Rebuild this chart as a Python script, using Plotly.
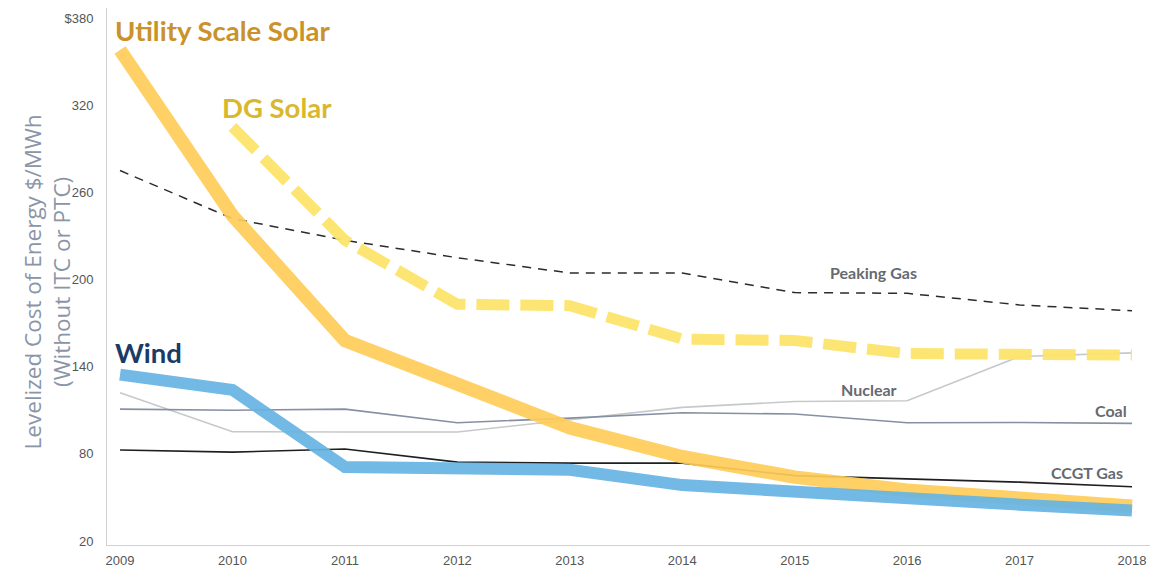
import plotly.graph_objects as go

years = [2009, 2010, 2011, 2012, 2013, 2014, 2015, 2016, 2017, 2018]
utility_solar = [358, 244, 158, 127, 98, 78, 64, 55, 50, 44]
dg_years = [2010, 2011, 2012, 2013, 2014, 2015, 2016, 2017, 2018]
dg_solar = [305, 227, 183, 182, 159, 158, 149, 148, 148]
peaking_gas = [275, 242, 227, 215, 204.5, 204.5, 191, 190.5, 182.5, 178.5]
wind = [134.5, 124, 71, 70.5, 69, 58.5, 54, 47.5, 45, 41]
nuclear = [122, 95.2, 95, 95, 103.5, 112, 116, 116.5, 147, 149.5]
coal = [110.8, 110, 110.8, 101.4, 104.6, 108.3, 107.4, 101.4, 101.6, 101]
ccgt = [82.6, 81.2, 83.3, 74.3, 73.6, 73.6, 65, 62.5, 60.5, 57.3]

y_ticks = [20, 80, 140, 200, 260, 320, 380]
y_tick_text = ["20", "80", "140", "200", "260", "320", "$380"]

fig = go.Figure()

def add(x, y, color, width, dash="solid", opacity=1.0):
    fig.add_trace(go.Scatter(x=x, y=y, mode="lines", opacity=opacity,
                             line=dict(color=color, width=width, dash=dash),
                             hoverinfo="skip", showlegend=False))

add(years, peaking_gas, "#2b2b2b", 1.5, dash="9px,7px")
add(years, nuclear, "#c6c8cb", 1.6)
add(years, coal, "#8690a3", 1.6)
add(years, ccgt, "#1f1f1f", 1.6)
add(dg_years, dg_solar, "#fde46c", 11, dash="33px,11px", opacity=0.95)
add(years, utility_solar, "#fecd58", 13.5, opacity=0.92)
add(years, wind, "#67b4e3", 12, opacity=0.92)

label_font = "Lato, 'Open Sans', sans-serif"
anns = [
    dict(text="<b>Utility Scale Solar</b>", x=2008.94, y=371.5, color="#c9922a", size=27.5, xanchor="left"),
    dict(text="<b>DG Solar</b>", x=2009.89, y=318.5, color="#d9b72e", size=27.5, xanchor="left"),
    dict(text="<b>Wind</b>", x=2008.94, y=150, color="#1b3a66", size=27.5, xanchor="left"),
    dict(text="<b>Peaking Gas</b>", x=2015.30, y=204.5, color="#666a70", size=16, xanchor="left"),
    dict(text="<b>Nuclear</b>", x=2015.39, y=124.6, color="#666a70", size=16, xanchor="left"),
    dict(text="<b>Coal</b>", x=2017.97, y=109.5, color="#666a70", size=16, xanchor="right"),
    dict(text="<b>CCGT Gas</b>", x=2017.94, y=67.5, color="#666a70", size=16, xanchor="right"),
]
for a in anns:
    fig.add_annotation(text=a["text"], x=a["x"], y=a["y"], xref="x", yref="y",
                       xanchor=a["xanchor"], yanchor="middle", showarrow=False,
                       font=dict(family=label_font, size=a["size"], color=a["color"]))

fig.add_annotation(text="Levelized Cost of Energy $/MWh<br>(Without ITC or PTC)",
                   xref="paper", yref="paper", x=-0.058, y=0.49,
                   xanchor="center", yanchor="middle", textangle=-90, showarrow=False,
                   font=dict(family="'Open Sans', Lato, sans-serif", size=22.5, color="#8a95a8"))

tick_font = dict(family="'Liberation Sans Narrow', 'Liberation Sans', sans-serif", size=13, color="#555")
fig.update_layout(
    width=1158, height=569,
    margin=dict(l=107, r=8, t=8, b=24),
    paper_bgcolor="white", plot_bgcolor="white",
    xaxis=dict(range=[2008.884, 2018.16], tickvals=years, ticktext=[str(y) for y in years],
               showgrid=False, zeroline=False, showline=True, linecolor="#d0d0d0", linewidth=1,
               ticks="outside", ticklen=3, tickcolor="rgba(0,0,0,0)", automargin=False,
               tickfont=tick_font),
    yaxis=dict(range=[17.25, 386.9], tickvals=y_ticks, ticktext=y_tick_text,
               showgrid=False, zeroline=False, showline=True, linecolor="#d0d0d0", linewidth=1,
               ticks="outside", ticklen=10, tickcolor="rgba(0,0,0,0)", automargin=False,
               tickfont=tick_font),
)

fig.write_html("out.html")
